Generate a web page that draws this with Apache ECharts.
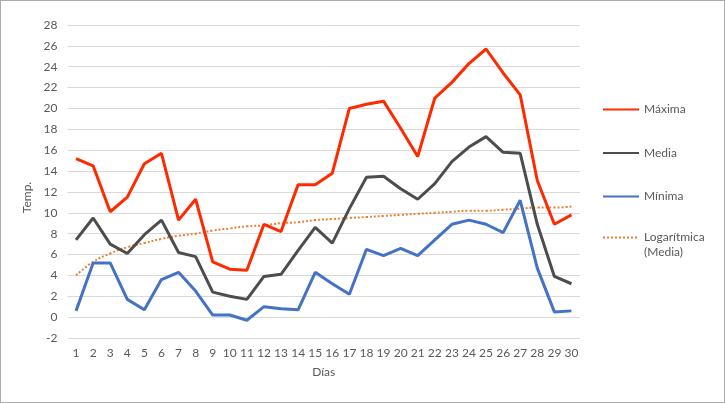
<!DOCTYPE html>
<html>
<head>
<meta charset="utf-8">
<script src="https://cdn.jsdelivr.net/npm/echarts@6/dist/echarts.min.js"></script>
<style>
html,body{margin:0;padding:0;background:#fff;}
#c{width:725px;height:403px;box-sizing:border-box;border:1px solid #ABABAB;}
</style>
</head>
<body>
<div id="c"></div>
<script>
const dias = ['1','2','3','4','5','6','7','8','9','10','11','12','13','14','15','16','17','18','19','20','21','22','23','24','25','26','27','28','29','30'];
const maxima = [15.2,14.5,10.1,11.5,14.7,15.7,9.3,11.3,5.3,4.6,4.5,8.9,8.2,12.7,12.7,13.8,20.0,20.4,20.7,18.1,15.4,21.0,22.5,24.3,25.7,23.4,21.3,13.1,8.9,9.8];
const media = [7.4,9.5,7.0,6.1,7.9,9.3,6.2,5.8,2.4,2.0,1.7,3.9,4.1,6.4,8.6,7.1,10.4,13.4,13.5,12.3,11.3,12.8,14.9,16.3,17.3,15.8,15.7,8.9,3.9,3.2];
const minima = [0.6,5.2,5.2,1.7,0.7,3.6,4.3,2.5,0.2,0.2,-0.3,1.0,0.8,0.7,4.3,3.2,2.2,6.5,5.9,6.6,5.9,7.4,8.9,9.3,8.9,8.1,11.2,4.7,0.5,0.6];
const logMedia = [4.0,5.3,6.1,6.7,7.1,7.5,7.8,8.0,8.3,8.5,8.7,8.8,9.0,9.1,9.3,9.4,9.5,9.6,9.7,9.8,9.9,10.0,10.1,10.2,10.2,10.3,10.4,10.5,10.5,10.6];
const yTicks = {min:-2, max:28, interval:2};

const FONT = 'Lato';
const TXT = '#595959';
const legendBase = {
  orient:'vertical', left:596, itemWidth:36, itemHeight:14, itemGap:28.5,
  itemStyle:{color:'transparent', borderColor:'transparent', borderWidth:0, opacity:0},
  textStyle:{color:TXT, fontSize:12, fontFamily:FONT, lineHeight:15}
};
const chart = echarts.init(document.getElementById('c'), null, {renderer:'canvas'});
chart.setOption({
  animation:false,
  textStyle:{fontFamily:FONT},
  grid:{left:66.5, right:144, top:24, bottom:64, containLabel:false},
  xAxis:{
    type:'category', data:dias, boundaryGap:true,
    axisLine:{show:false}, axisTick:{show:false},
    axisLabel:{color:TXT, fontSize:12, fontFamily:FONT, margin:9, interval:0},
    name:'Días', nameLocation:'middle', nameGap:28,
    nameTextStyle:{color:TXT, fontSize:12, fontFamily:FONT}
  },
  yAxis:{
    type:'value', min:yTicks.min, max:yTicks.max, interval:yTicks.interval,
    axisLine:{show:false}, axisTick:{show:false},
    splitLine:{lineStyle:{color:'#D9D9D9', width:1}},
    axisLabel:{color:TXT, fontSize:12, fontFamily:FONT, margin:10},
    name:'Temp.', nameLocation:'middle', nameGap:32, nameRotate:90,
    nameTextStyle:{color:TXT, fontSize:12, fontFamily:FONT, padding:[0,32,0,0]}
  },
  legend:[
    Object.assign({}, legendBase, {top:96, data:['Máxima','Media','Mínima']}),
    Object.assign({}, legendBase, {top:209, data:['Logarítmica\n(Media)'], formatter:function(n){return '\n' + n;}})
  ],
  series:[
    {name:'Máxima', type:'line', data:maxima, symbol:'none', lineStyle:{color:'#FF2A00', width:3}, itemStyle:{color:'#FF2A00'}, z:4},
    {name:'Media', type:'line', data:media, symbol:'none', lineStyle:{color:'#4D4D4D', width:3}, itemStyle:{color:'#4D4D4D'}, z:3},
    {name:'Mínima', type:'line', data:minima, symbol:'none', lineStyle:{color:'#4472C4', width:3}, itemStyle:{color:'#4472C4'}, z:2},
    {name:'Logarítmica\n(Media)', type:'line', data:logMedia, symbol:'none', smooth:true, lineStyle:{color:'#ED7D31', width:2, type:[2,2]}, itemStyle:{color:'#ED7D31'}, z:1}
  ]
});
</script>
</body>
</html>
